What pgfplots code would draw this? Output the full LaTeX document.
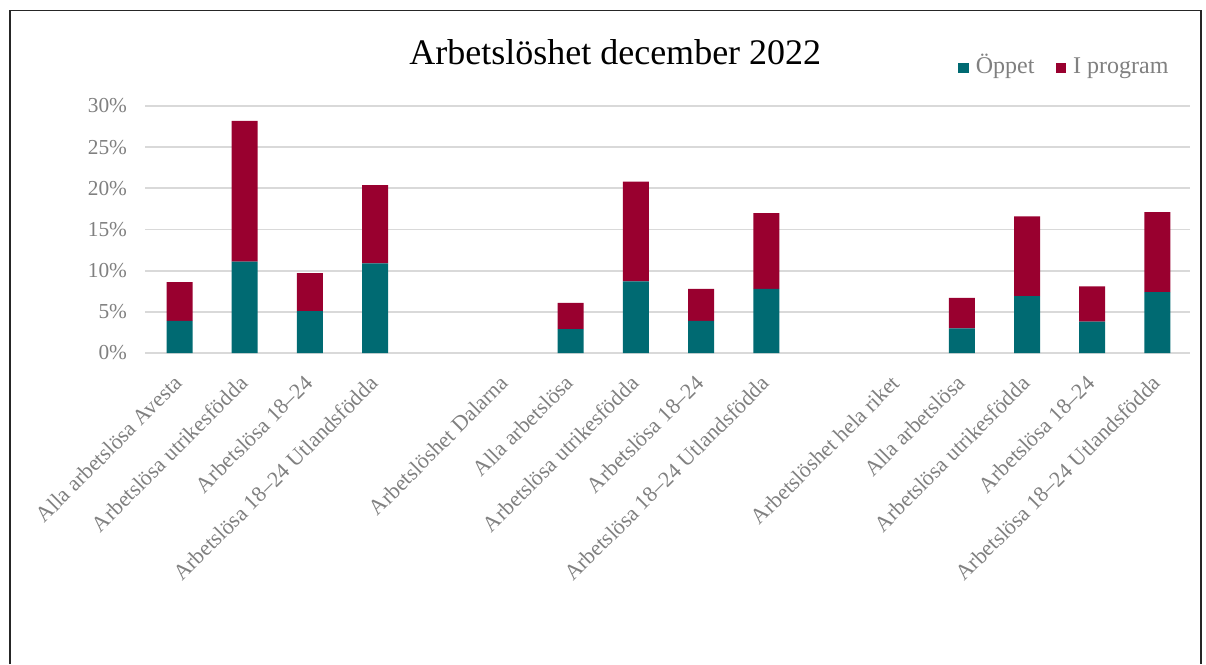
\documentclass[border=0pt]{standalone}
\usepackage{fontspec}
\setmainfont{Liberation Serif}
\usepackage{pgfplots}
\pgfplotsset{compat=1.18}
\definecolor{oppet}{HTML}{006A72}
\definecolor{iprog}{HTML}{99002F}
\definecolor{lbl}{HTML}{808080}
\definecolor{grd}{HTML}{D9D9D9}
\begin{document}
\begin{tikzpicture}
\useasboundingbox (0,0) rectangle (904.5pt,498pt);
\draw[line width=1.2pt, color=black!85] (7.5pt,0) -- (7.5pt,490pt) -- (900.75pt,490pt) -- (900.75pt,0);
\begin{axis}[
  at={(108.75pt,233.25pt)}, anchor=south west,
  scale only axis, width=783.75pt, height=185.25pt,
  ybar stacked, bar width=19.5pt,
  xmin=-0.53, xmax=15.5, ymin=0, ymax=30,
  axis line style={draw=none},
  tick style={draw=none},
  ymajorgrids, grid style={grd, line width=1.4pt},
  ytick={0,5,...,30},
  yticklabels={0\%,5\%,10\%,15\%,20\%,25\%,30\%},
  y tick label style={text=lbl, font=\fontsize{16}{18}\selectfont, xshift=-10pt},
  xtick={0,...,15},
  xticklabels={Alla arbetslösa Avesta,Arbetslösa utrikesfödda,Arbetslösa 18–24,Arbetslösa 18–24 Utlandsfödda,,Arbetslöshet Dalarna,Alla arbetslösa,Arbetslösa utrikesfödda,Arbetslösa 18–24,Arbetslösa 18–24 Utlandsfödda,,Arbetslöshet hela riket,Alla arbetslösa,Arbetslösa utrikesfödda,Arbetslösa 18–24,Arbetslösa 18–24 Utlandsfödda},
  x tick label style={xshift=-5pt, yshift=-14pt, rotate=45, anchor=north east, text=lbl, font=\fontsize{16.5}{18}\selectfont, inner sep=1pt},
  title={Arbetslöshet december 2022},
  title style={font=\fontsize{27}{31}\selectfont, at={(0.45,1.187)}, anchor=center},
  legend columns=2,
  legend style={draw=none, at={(0.986,1.154)}, anchor=east, font=\fontsize{18}{20}\selectfont, text=lbl,
    nodes={text height=12.5pt, text depth=4pt},
    /tikz/every odd column/.append style={column sep=3pt},
    /tikz/every even column/.append style={column sep=14pt}},
  legend image code/.code={\fill[#1] (0pt,-4pt) rectangle (8pt,4pt);},
]
\addplot[fill=oppet, draw=none] coordinates {
(0,3.9) (1,11.1) (2,5.1) (3,10.9)
(6,2.9) (7,8.7) (8,3.9) (9,7.8)
(12,3.0) (13,6.9) (14,3.8) (15,7.4)};
\addplot[fill=iprog, draw=none] coordinates {
(0,4.7) (1,17.1) (2,4.6) (3,9.5)
(6,3.2) (7,12.1) (8,3.9) (9,9.2)
(12,3.7) (13,9.7) (14,4.3) (15,9.7)};
\legend{Öppet, I program}
\end{axis}
\end{tikzpicture}
\end{document}
